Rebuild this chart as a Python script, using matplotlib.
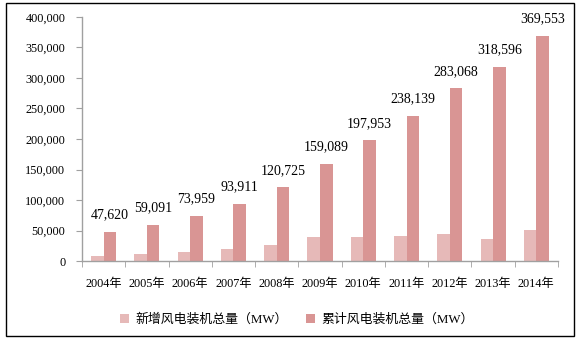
import matplotlib
matplotlib.use("Agg")
import matplotlib.pyplot as plt
from matplotlib.patches import Rectangle
from matplotlib.ticker import FuncFormatter
import numpy as np

years = ["2004年", "2005年", "2006年", "2007年", "2008年", "2009年",
         "2010年", "2011年", "2012年", "2013年", "2014年"]
new_installed = [8207, 11531, 15245, 19866, 26560, 38610, 39059, 40635, 45030, 35467, 51477]
cumulative = [47620, 59091, 73959, 93911, 120725, 159089, 197953, 238139, 283068, 318596, 369553]
label_new = "新增风电装机总量（MW）"
label_cum = "累计风电装机总量（MW）"

plt.rcParams['font.family'] = ['Liberation Serif', 'Noto Sans CJK SC']

W, H = 579, 341
fig = plt.figure(figsize=(W / 100, H / 100), dpi=100)
fig.patch.set_facecolor("white")

# outer border
fig.add_artist(Rectangle((6 / W, 1 - 336 / H), (574 - 6) / W, (336 - 3) / H,
                         transform=fig.transFigure, fill=False, edgecolor="black", linewidth=1.0))

ax = fig.add_axes([82 / W, 1 - 261 / H, (558 - 82) / W, (261 - 17) / H])

c_light = "#E6B9B8"
c_dark = "#D99594"
x = np.arange(len(years))
bw = 0.29
ax.bar(x - bw / 2, new_installed, width=bw, color=c_light, label=label_new)
ax.bar(x + bw / 2, cumulative, width=bw, color=c_dark, label=label_cum)

for xi, v in zip(x, cumulative):
    ax.annotate(f"{v:,}", (xi + bw / 2, v), xytext=(0, 7.5), textcoords="offset points",
                ha="center", va="bottom", fontsize=10, color="black")

ax.set_xlim(-0.5, len(years) - 0.5)
ax.set_ylim(0, 400000)
ax.set_yticks(np.arange(0, 400001, 50000))
ax.yaxis.set_major_formatter(FuncFormatter(lambda v, p: f"{int(v):,}"))
ax.set_xticks(x)
ax.set_xticklabels(years)
ax.set_xticks(np.arange(-0.5, len(years), 1), minor=True)
ax.tick_params(axis="x", which="major", length=0, pad=12, labelsize=8.8)
ax.tick_params(axis="x", which="minor", length=4, color="#A0A0A0", direction="out")
ax.tick_params(axis="y", length=4, color="#A0A0A0", labelsize=8.8, pad=8)

for s in ["top", "right"]:
    ax.spines[s].set_visible(False)
for s in ["left", "bottom"]:
    ax.spines[s].set_color("#A0A0A0")
    ax.spines[s].set_linewidth(1.0)

fig.legend(loc="center", bbox_to_anchor=(0.5 + 7 / W, 1 - 320 / H), ncol=2, frameon=False,
           handlelength=0.7, handleheight=0.7, handletextpad=0.5, columnspacing=1.4,
           prop={"size": 9.3})

fig.savefig("out.png", dpi=100)
